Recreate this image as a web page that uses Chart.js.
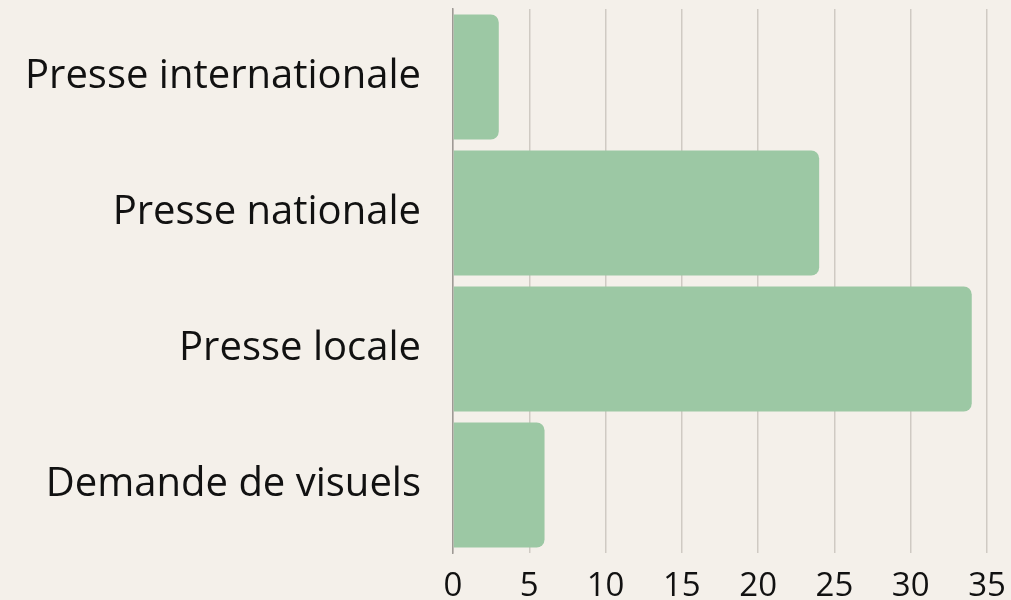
<!DOCTYPE html>
<html>
<head>
<meta charset="utf-8">
<script src="https://cdn.jsdelivr.net/npm/chart.js@4/dist/chart.umd.min.js"></script>
<style>
  html, body { margin: 0; padding: 0; background: #f4f0ea; }
  #wrap { width: 1011px; height: 600px; }
</style>
</head>
<body>
<div id="wrap"><canvas id="pressChart"></canvas></div>
<script>
  const categories = ['Presse internationale', 'Presse nationale', 'Presse locale', 'Demande de visuels'];
  const counts = [3, 24, 34, 6];
  const xTicks = [0, 5, 10, 15, 20, 25, 30, 35];

  const ctx = document.getElementById('pressChart').getContext('2d');

  new Chart(ctx, {
    type: 'bar',
    data: {
      labels: categories,
      datasets: [{
        data: counts,
        backgroundColor: '#9cc8a4',
        borderRadius: 8,
        borderSkipped: 'start',
        barPercentage: 0.92,
        categoryPercentage: 1
      }]
    },
    options: {
      indexAxis: 'y',
      responsive: true,
      maintainAspectRatio: false,
      animation: false,
      layout: { padding: { top: 9, left: 10, right: 0, bottom: 0 } },
      plugins: {
        legend: { display: false },
        tooltip: { enabled: false }
      },
      scales: {
        x: {
          min: 0,
          max: 35,
          afterBuildTicks: axis => { axis.ticks = xTicks.map(v => ({ value: v })); },
          afterFit: axis => { axis.height = 47; axis.paddingLeft = 0; axis.paddingRight = 24; },
          grid: { color: '#cfcac3', lineWidth: 1.5, drawTicks: false },
          border: { display: false },
          ticks: {
            color: '#111111',
            padding: 14,
            maxRotation: 0,
            font: { family: 'Open Sans', size: 33 }
          }
        },
        y: {
          afterFit: axis => { axis.width = 443; axis.paddingTop = 0; axis.paddingBottom = 0; },
          grid: { display: false, drawTicks: false },
          border: { display: true, color: '#9e9a95', width: 1.5 },
          ticks: {
            color: '#111111',
            padding: 32,
            font: { family: 'Open Sans', size: 40 }
          }
        }
      }
    }
  });
</script>
</body>
</html>
